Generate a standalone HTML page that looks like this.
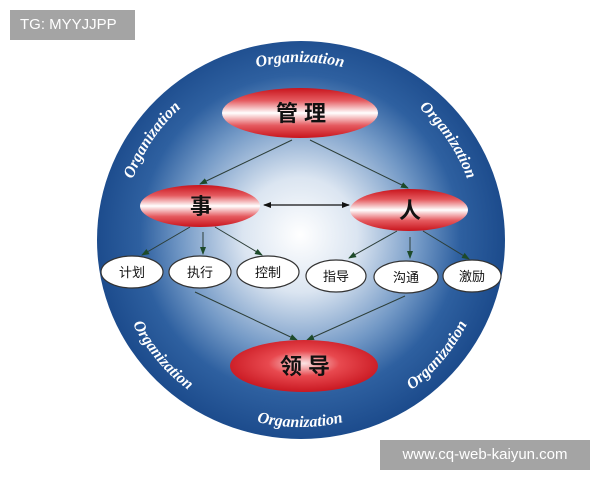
<!DOCTYPE html>
<html><head><meta charset="utf-8"><style>
body{margin:0;width:600px;height:480px;background:#fff;overflow:hidden;position:relative;font-family:"Liberation Sans","Noto Sans CJK SC",sans-serif}
.wm{position:absolute;background:#a4a4a4;color:#fff;font-size:15px;line-height:30px;padding:0 10px}
</style></head><body>
<svg width="600" height="480" style="position:absolute;left:0;top:0">
<defs>
<radialGradient id="bg" cx="300" cy="235" r="205" gradientUnits="userSpaceOnUse">
<stop offset="0" stop-color="#ffffff"/>
<stop offset="0.28" stop-color="#dbe5f1"/>
<stop offset="0.58" stop-color="#7399c6"/>
<stop offset="0.78" stop-color="#2e60a0"/>
<stop offset="1" stop-color="#1c4b8c"/>
</radialGradient>
<linearGradient id="red" x1="0" y1="0" x2="0" y2="1">
<stop offset="0" stop-color="#c8141c"/>
<stop offset="0.25" stop-color="#e55a5f"/>
<stop offset="0.5" stop-color="#ffffff"/>
<stop offset="0.75" stop-color="#e55a5f"/>
<stop offset="1" stop-color="#c8141c"/>
</linearGradient>
<radialGradient id="red2" cx="0.5" cy="0.45" r="0.6">
<stop offset="0" stop-color="#fbe5e5"/>
<stop offset="0.4" stop-color="#e8494f"/>
<stop offset="1" stop-color="#c4101a"/>
</radialGradient>
<marker id="ah" markerWidth="8" markerHeight="8" refX="7" refY="4" orient="auto" markerUnits="userSpaceOnUse">
<path d="M0,1 L8,4 L0,7 z" fill="#1d4a2a"/></marker>
<marker id="as" markerWidth="8" markerHeight="8" refX="1" refY="4" orient="auto" markerUnits="userSpaceOnUse">
<path d="M8,1 L0,4 L8,7 z" fill="#111"/></marker>
<marker id="ae" markerWidth="8" markerHeight="8" refX="7" refY="4" orient="auto" markerUnits="userSpaceOnUse">
<path d="M0,1 L8,4 L0,7 z" fill="#111"/></marker>
<path id="t1" d="M 185.6 103.6 A 178 178 0 0 1 414.4 103.6"/>
<path id="t2" d="M 123.0 258.6 A 178 178 0 0 1 250.9 68.9"/>
<path id="t3" d="M 349.1 68.9 A 178 178 0 0 1 477.0 258.6"/>
<path id="b1" d="M 179.8 383.3 A 187 187 0 0 0 420.2 383.3"/>
<path id="b2" d="M 113.0 240 A 187 187 0 0 0 267.5 424.2"/>
<path id="b3" d="M 332.5 424.2 A 187 187 0 0 0 487.0 240"/>
</defs>
<ellipse cx="301" cy="240" rx="204" ry="199" fill="url(#bg)"/>
<g font-family="Liberation Serif,serif" font-style="italic" font-weight="bold" font-size="16" fill="#fff" text-anchor="middle">
<text><textPath href="#t1" startOffset="50%">Organization</textPath></text>
<text><textPath href="#t2" startOffset="50%">Organization</textPath></text>
<text><textPath href="#t3" startOffset="50%">Organization</textPath></text>
<text><textPath href="#b1" startOffset="50%">Organization</textPath></text>
<text><textPath href="#b2" startOffset="50%">Organization</textPath></text>
<text><textPath href="#b3" startOffset="50%">Organization</textPath></text>
</g>
<g stroke="#2c3e38" stroke-width="1" marker-end="url(#ah)">
<line x1="292" y1="140" x2="200" y2="184"/>
<line x1="310" y1="140" x2="408" y2="188"/>
<line x1="190" y1="227" x2="142" y2="255"/>
<line x1="203" y1="232" x2="203" y2="254"/>
<line x1="215" y1="227" x2="262" y2="255"/>
<line x1="397" y1="231" x2="349" y2="258"/>
<line x1="410" y1="237" x2="410" y2="258"/>
<line x1="423" y1="231" x2="469" y2="259"/>
<line x1="195" y1="292" x2="297" y2="340"/>
<line x1="405" y1="296" x2="307" y2="340"/>
</g>
<line x1="264" y1="205" x2="349" y2="205" stroke="#111" stroke-width="1.3" marker-start="url(#as)" marker-end="url(#ae)"/>
<ellipse cx="300" cy="113" rx="78" ry="25" fill="url(#red)"/>
<ellipse cx="200" cy="206" rx="60" ry="21" fill="url(#red)"/>
<ellipse cx="409" cy="210" rx="59" ry="21" fill="url(#red)"/>
<ellipse cx="304" cy="366" rx="74" ry="26" fill="url(#red2)"/>
<g fill="#111" font-weight="bold" text-anchor="middle" font-family="Liberation Sans,Noto Sans CJK SC,sans-serif">
<text x="301" y="121" font-size="22">管 理</text>
<text x="201" y="214" font-size="22">事</text>
<text x="410" y="218" font-size="22">人</text>
<text x="305" y="374" font-size="22">领 导</text>
</g>
<g fill="#fff" stroke="#333" stroke-width="1.2">
<ellipse cx="132" cy="272" rx="31" ry="16"/>
<ellipse cx="200" cy="272" rx="31" ry="16"/>
<ellipse cx="268" cy="272" rx="31" ry="16"/>
<ellipse cx="336" cy="276" rx="30" ry="16"/>
<ellipse cx="406" cy="277" rx="32" ry="16"/>
<ellipse cx="472" cy="276" rx="29" ry="16"/>
</g>
<g fill="#111" font-size="13" text-anchor="middle" font-family="Liberation Sans,Noto Sans CJK SC,sans-serif">
<text x="132" y="277">计划</text>
<text x="200" y="277">执行</text>
<text x="268" y="277">控制</text>
<text x="336" y="281">指导</text>
<text x="406" y="282">沟通</text>
<text x="472" y="281">激励</text>
</g>
</svg>
<div class="wm" style="left:10px;top:10px;width:105px">TG: MYYJJPP</div>
<div class="wm" style="left:380px;top:440px;width:190px;text-align:center">www.cq-web-kaiyun.com</div>
</body></html>
